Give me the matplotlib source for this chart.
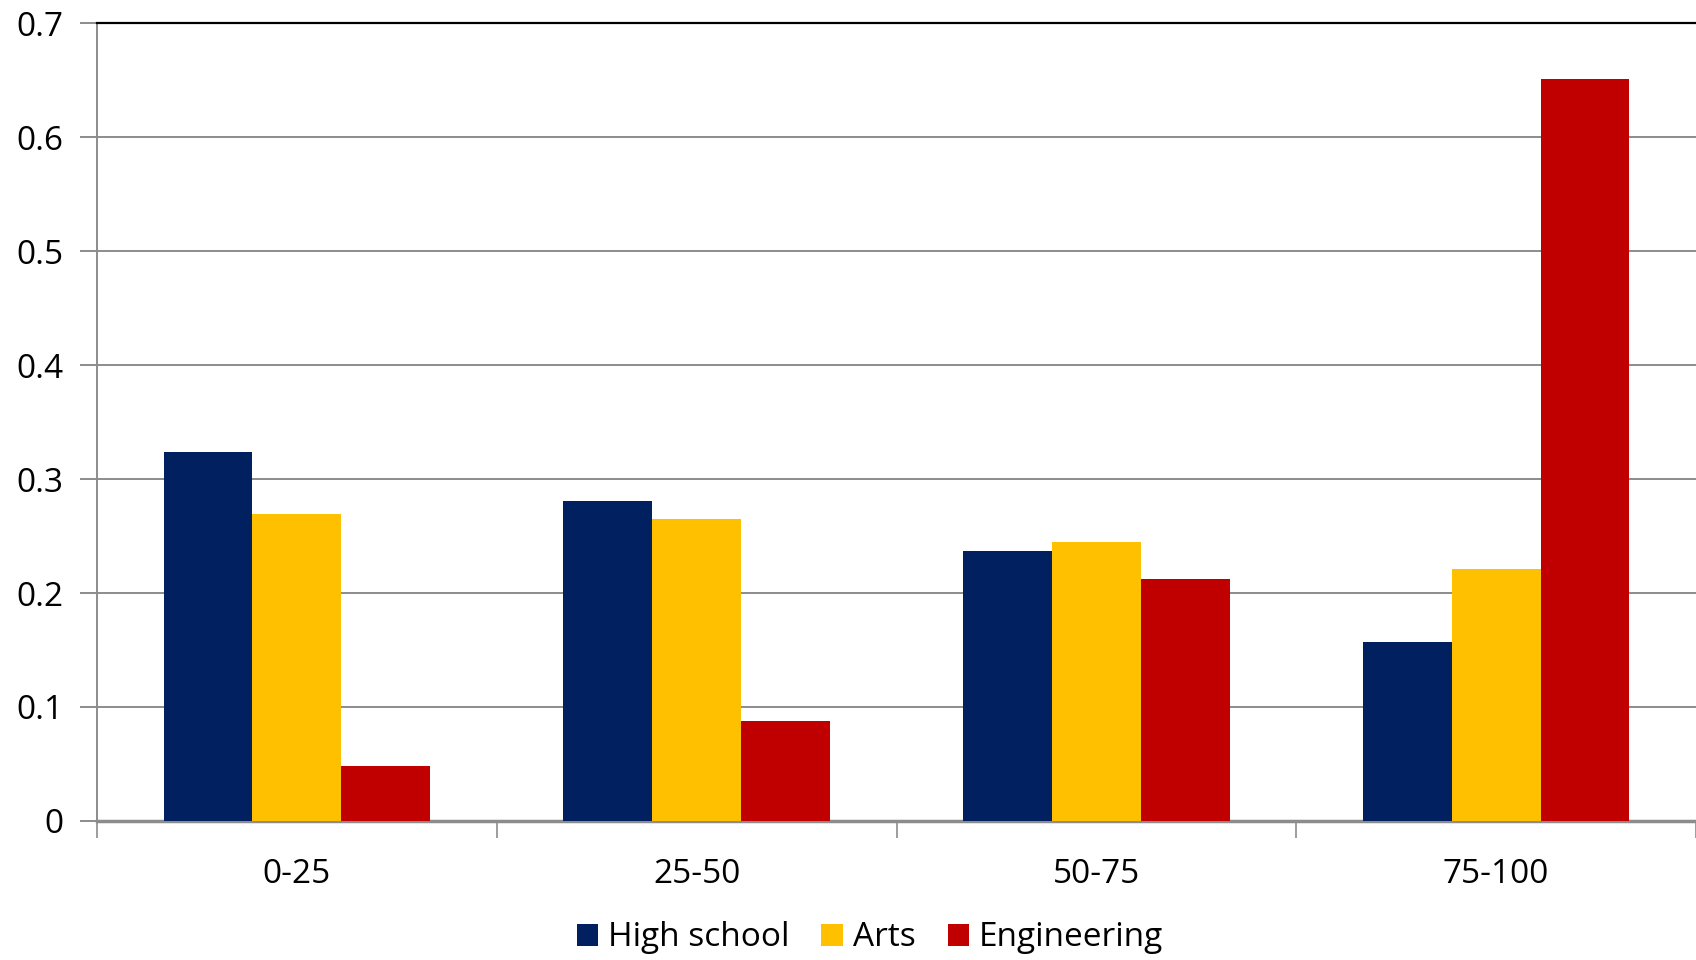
import matplotlib.pyplot as plt
import numpy as np

# Share of students per score band
bands = ['0-25', '25-50', '50-75', '75-100']
high_school = [0.324, 0.281, 0.237, 0.157]
arts = [0.269, 0.265, 0.245, 0.221]
engineering = [0.048, 0.088, 0.212, 0.651]

series = [('High school', high_school, '#002060'),
          ('Arts', arts, '#FFC000'),
          ('Engineering', engineering, '#C00000')]

plt.rcParams['font.family'] = ['Open Sans', 'DejaVu Sans']

fig = plt.figure(figsize=(16.96, 9.6), dpi=100)
ax = fig.add_axes([0.0572, 0.1448, 0.9428, 0.8312])

x = np.arange(len(bands))
width = 2 / 9
for i, (name, vals, color) in enumerate(series):
    ax.bar(x + (i - 1) * width, vals, width, color=color, label=name,
           zorder=3, linewidth=0)

ax.set_xlim(-0.5, len(bands) - 0.5)
ax.set_ylim(0, 0.7)
ax.set_yticks(np.arange(0, 0.71, 0.1))
ax.set_yticklabels(['0'] + [f'{v:.1f}' for v in np.arange(0.1, 0.71, 0.1)])
ax.yaxis.grid(True, color='#8c8c8c', linewidth=1.4, zorder=0)

# category labels in the middle, ticks on the boundaries
ax.set_xticks(x)
ax.set_xticklabels(bands)
ax.set_xticks(np.arange(-0.5, len(bands)), minor=True)
ax.tick_params(axis='x', which='major', length=0, pad=27, labelsize=24)
ax.tick_params(axis='x', which='minor', length=12, width=1.2,
               color='#8c8c8c')
ax.tick_params(axis='y', length=12, width=1.4, color='#8c8c8c',
               pad=12, labelsize=24)

for side in ['left', 'bottom']:
    ax.spines[side].set_color('#8c8c8c')
ax.spines['left'].set_linewidth(1.4)
ax.spines['bottom'].set_linewidth(2.5)
ax.spines['top'].set_color('black')
ax.spines['top'].set_linewidth(1.6)
ax.spines['right'].set_visible(False)

fig.legend(loc='center', bbox_to_anchor=(0.513, 0.023), ncol=3,
           frameon=False, fontsize=24, handlelength=0.65, handleheight=0.65,
           handletextpad=0.3, columnspacing=0.95)

fig.savefig('out.png', dpi=100)
